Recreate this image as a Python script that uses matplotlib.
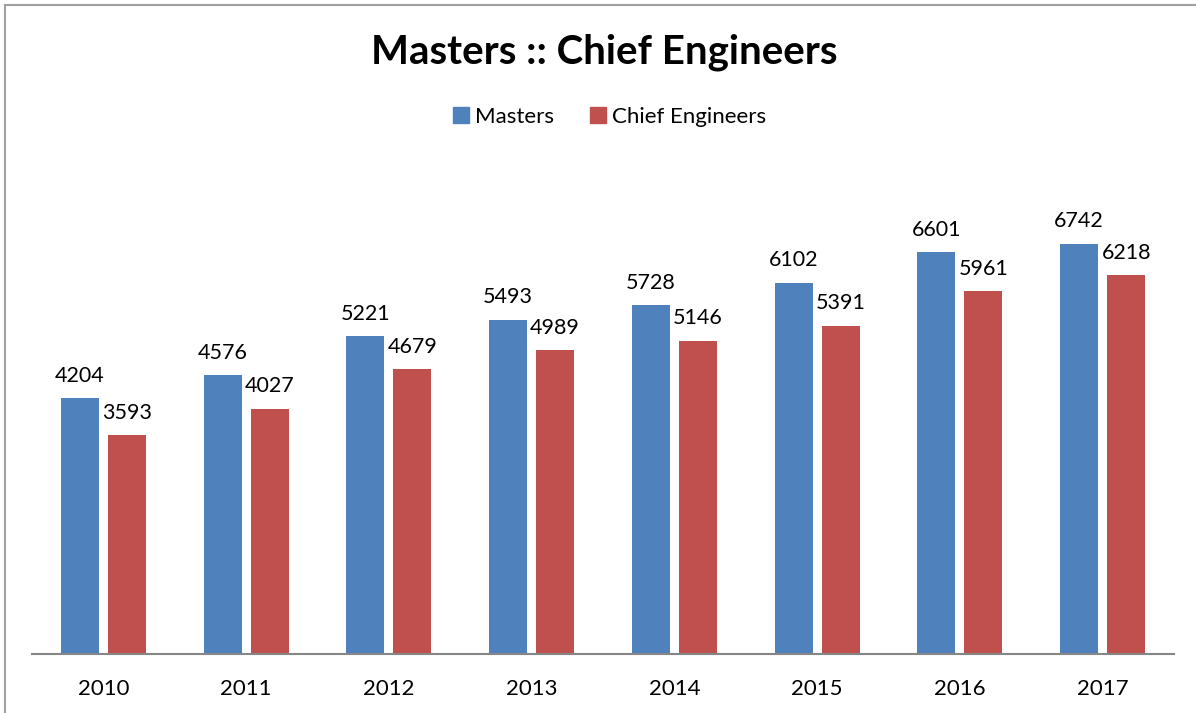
import matplotlib
matplotlib.use("Agg")
import matplotlib.pyplot as plt
from matplotlib.lines import Line2D
import numpy as np

years = ["2010", "2011", "2012", "2013", "2014", "2015", "2016", "2017"]
masters = [4204, 4576, 5221, 5493, 5728, 6102, 6601, 6742]
chief_engineers = [3593, 4027, 4679, 4989, 5146, 5391, 5961, 6218]

BLUE = "#4F81BD"
RED = "#C0504D"
plt.rcParams["font.family"] = ["Lato", "DejaVu Sans"]

fig = plt.figure(figsize=(11.96, 7.13), dpi=100)
ax = fig.add_axes([32/1196, 59/713, 1142/1196, 487/713])

x = np.arange(len(years))
w = 0.266
off = 0.165
b1 = ax.bar(x - off, masters, w, color=BLUE)
b2 = ax.bar(x + off, chief_engineers, w, color=RED)

for rects, vals in ((b1, masters), (b2, chief_engineers)):
    for r, v in zip(rects, vals):
        ax.annotate(str(v), (r.get_x() + r.get_width()/2, r.get_height()),
                    xytext=(0, 9), textcoords="offset points",
                    ha="center", va="bottom", fontsize=15.5, color="black")

ax.set_xlim(-0.5, len(years) - 0.5)
ax.set_ylim(0, 8000)
ax.set_xticks(x)
ax.set_xticklabels(years, fontsize=16)
ax.tick_params(axis="x", length=0, pad=18)
ax.set_yticks([])
for s in ("top", "right", "left"):
    ax.spines[s].set_visible(False)
ax.spines["bottom"].set_color("#868686")
ax.spines["bottom"].set_linewidth(1.5)

fig.text(604/1196, 1 - 52/713, "Masters :: Chief Engineers", ha="center", va="center",
         fontsize=29, fontweight="bold")

handles = [Line2D([], [], marker="s", linestyle="none", markersize=11, color=BLUE),
           Line2D([], [], marker="s", linestyle="none", markersize=11, color=RED)]
fig.legend(handles, ["Masters", "Chief Engineers"], loc="center",
           bbox_to_anchor=(608/1196, 1 - 117/713), ncol=2, frameon=False,
           fontsize=16, handletextpad=0.1, columnspacing=1.5, handlelength=1.0)

# chart-area border (left and top edges visible)
fig.add_artist(Line2D([5/1196, 5/1196], [0, 1 - 5/713], transform=fig.transFigure,
                      color="#A0A0A0", linewidth=1.5))
fig.add_artist(Line2D([5/1196, 1], [1 - 5/713, 1 - 5/713], transform=fig.transFigure,
                      color="#A0A0A0", linewidth=1.5))

fig.savefig("out.png", dpi=100)
